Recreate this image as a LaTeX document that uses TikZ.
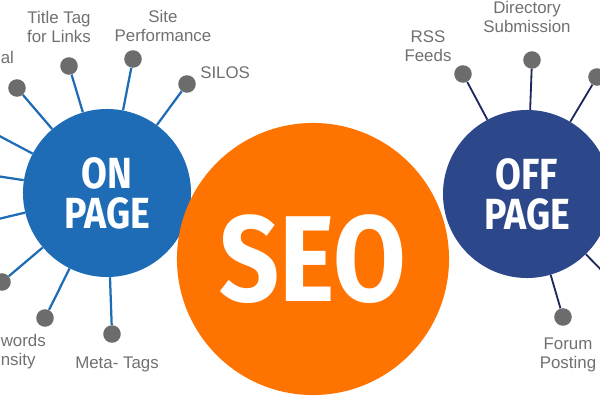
\documentclass[tikz,border=0pt]{standalone}
\usepackage{fontspec}
\setmainfont{Liberation Sans}
\newfontfamily\titlefont[FakeStretch=0.86]{Fira Sans}
\usepackage{xcolor}
\usepackage{tikz}
\usetikzlibrary{positioning}

\definecolor{onblue}{RGB}{31,108,182}
\definecolor{offnavy}{RGB}{44,72,138}
\definecolor{offline}{RGB}{30,40,92}
\definecolor{seoorange}{RGB}{255,115,0}
\definecolor{dotgray}{RGB}{108,108,108}
\definecolor{labelgray}{RGB}{112,112,112}

\begin{document}
\begin{tikzpicture}[
    x=0.025cm, y=-0.025cm,
    hub/.style={circle, inner sep=0pt, text=white, align=center,
                font=\titlefont\bfseries\fontsize{31}{28.3}\selectfont},
    onhub/.style={hub, fill=onblue, minimum size=4.2cm},
    offhub/.style={hub, fill=offnavy, minimum size=4.2cm},
    seohub/.style={hub, fill=seoorange, minimum size=6.8cm,
                   font=\titlefont\bfseries\fontsize{87}{87}\selectfont},
    pin/.style={circle, fill=dotgray, inner sep=0pt, minimum size=12.5pt},
    onspoke/.style={draw=onblue, line width=1.6pt},
    offspoke/.style={draw=offline, line width=1.3pt},
    lbl/.style={text=labelgray, align=center, inner sep=0pt,
                font=\fontsize{12}{13.6}\selectfont}
]

\useasboundingbox (0,0) rectangle (600,400);

\node[onhub]  (onpage)  at (107,193) {ON\\PAGE};
\node[offhub] (offpage) at (527,194) {OFF\\PAGE};
\node[seohub] (seo)     at (313,259) {SEO};

% ON PAGE spokes
\node[pin] (linking) at (17,88) {};
\node[pin] (title)   at (69,66) {};
\node[pin] (perf)    at (133,59) {};
\node[pin] (silos)   at (187,84) {};
\node[pin] (density) at (2,282) {};
\node[pin] (kwords)  at (45,318) {};
\node[pin] (meta)    at (112,334) {};
\coordinate (edgea) at (-10,131);
\coordinate (edgeb) at (-10,175);
\coordinate (edgec) at (-10,221);

\draw[onspoke] (onpage) -- (linking);
\draw[onspoke] (onpage) -- (title);
\draw[onspoke] (onpage) -- (perf);
\draw[onspoke] (onpage) -- (silos);
\draw[onspoke] (onpage) -- (edgea);
\draw[onspoke] (onpage) -- (edgeb);
\draw[onspoke] (onpage) -- (edgec);
\draw[onspoke] (onpage) -- (density);
\draw[onspoke] (onpage) -- (kwords);
\draw[onspoke] (onpage) -- (meta);

\node[lbl, anchor=west] (linkinglbl) at (0.5,57) {al};
\node[lbl] (titlelbl) at (59,27) {Title Tag\\for Links};
\node[lbl] (perflbl)  at (163,26) {Site\\Performance};
\node[lbl, anchor=west] (siloslbl) at (200,73) {SILOS};
\node[lbl, anchor=west, align=left] (kwordslbl) at (0.5,352) {words\\nsity};
\node[lbl] (metalbl)  at (117,364) {Meta- Tags};

% OFF PAGE spokes
\node[pin] (rss)   at (463,74) {};
\node[pin] (dir)   at (532,60) {};
\node[pin] (press) at (597,77) {};
\node[pin] (forum) at (563,317) {};
\coordinate (edged) at (612,281);

\draw[offspoke] (offpage) -- (rss);
\draw[offspoke] (offpage) -- (dir);
\draw[offspoke] (offpage) -- (press);
\draw[offspoke] (offpage) -- (edged);
\draw[offspoke] (offpage) -- (forum);

\node[lbl] (rsslbl)   at (428,46) {RSS\\Feeds};
\node[lbl] (dirlbl)   at (527,17) {Directory\\Submission};
\node[lbl] (forumlbl) at (568,355) {Forum\\Posting};

\end{tikzpicture}
\end{document}
